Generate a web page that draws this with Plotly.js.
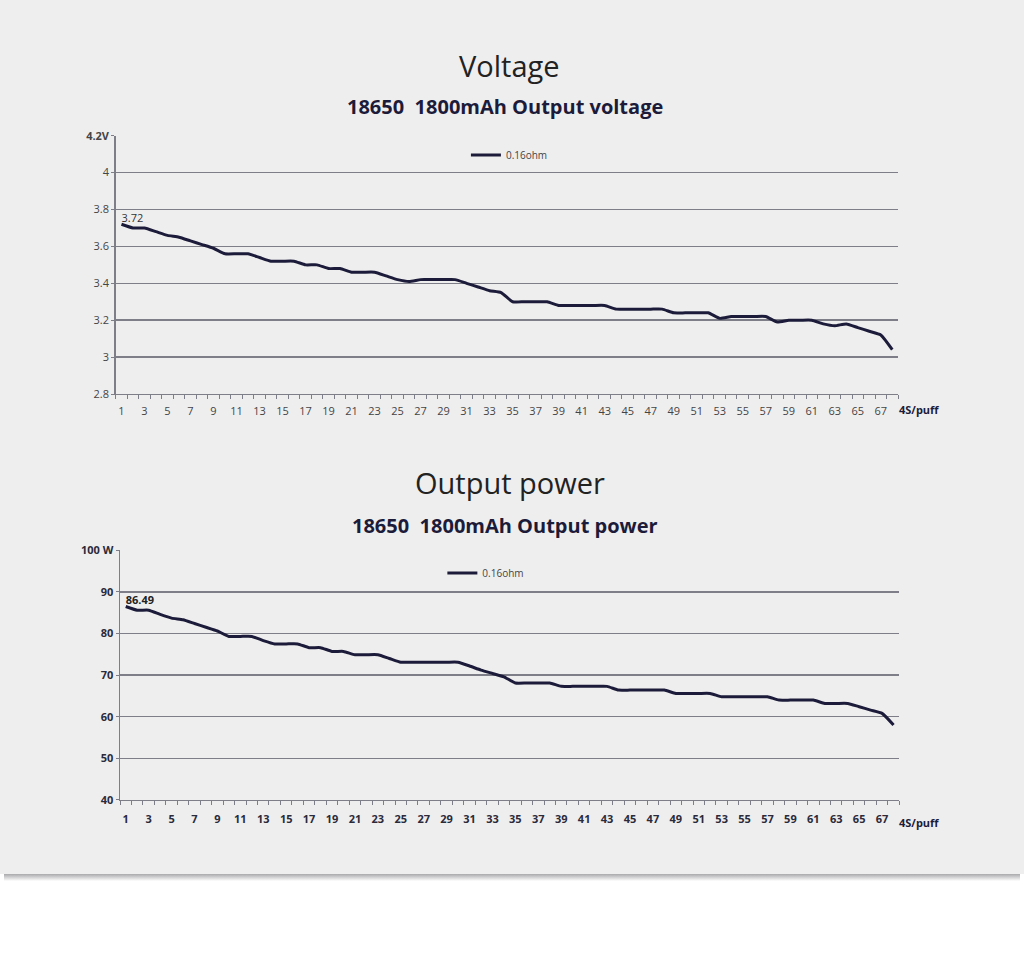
<!DOCTYPE html>
<html>
<head>
<meta charset="utf-8">
<script src="https://cdn.plot.ly/plotly-3.0.1.min.js"></script>
<style>
  body { margin: 0; background: #ffffff; }
  #chart { width: 1024px; height: 874px; }
  #shade { margin: 0 4px; height: 7px; background: linear-gradient(#a9a9ab, #d8d8da 55%, #ffffff); }
</style>
</head>
<body>
<div id="chart"></div>
<div id="shade"></div>
<script>
/* Puff number (one puff every 4 s) */
var puffs = [1, 2, 3, 4, 5, 6, 7, 8, 9, 10, 11, 12, 13, 14, 15, 16, 17, 18, 19, 20,
  21, 22, 23, 24, 25, 26, 27, 28, 29, 30, 31, 32, 33, 34, 35, 36, 37, 38, 39, 40,
  41, 42, 43, 44, 45, 46, 47, 48, 49, 50, 51, 52, 53, 54, 55, 56, 57, 58, 59, 60,
  61, 62, 63, 64, 65, 66, 67, 68];

// Output voltage (V), 0.16ohm coil
var voltage = [3.72, 3.70, 3.70, 3.68, 3.66, 3.65, 3.63, 3.61, 3.59, 3.56,
  3.56, 3.56, 3.54, 3.52, 3.52, 3.52, 3.50, 3.50, 3.48, 3.48,
  3.46, 3.46, 3.46, 3.44, 3.42, 3.41, 3.42, 3.42, 3.42, 3.42,
  3.40, 3.38, 3.36, 3.35, 3.30, 3.30, 3.30, 3.30, 3.28, 3.28,
  3.28, 3.28, 3.28, 3.26, 3.26, 3.26, 3.26, 3.26, 3.24, 3.24,
  3.24, 3.24, 3.21, 3.22, 3.22, 3.22, 3.22, 3.19, 3.20, 3.20,
  3.20, 3.18, 3.17, 3.18, 3.16, 3.14, 3.12, 3.04];

// Output power (W)
var power = [86.49, 85.6, 85.6, 84.6, 83.7, 83.3, 82.4, 81.5, 80.6, 79.3,
  79.3, 79.3, 78.3, 77.5, 77.5, 77.5, 76.6, 76.6, 75.7, 75.7,
  74.9, 74.9, 74.9, 74.0, 73.1, 73.1, 73.1, 73.1, 73.1, 73.1,
  72.2, 71.2, 70.4, 69.6, 68.1, 68.1, 68.1, 68.1, 67.3, 67.3,
  67.3, 67.3, 67.3, 66.4, 66.4, 66.4, 66.4, 66.4, 65.6, 65.6,
  65.6, 65.6, 64.8, 64.8, 64.8, 64.8, 64.8, 64.0, 64.0, 64.0,
  64.0, 63.2, 63.2, 63.2, 62.4, 61.6, 60.8, 58.0];

var voltTicks = [2.8, 3, 3.2, 3.4, 3.6, 3.8, 4, 4.2];
var voltTickText = ['2.8', '3', '3.2', '3.4', '3.6', '3.8', '4', '<b>4.2V</b>'];
var powerTicks = [40, 50, 60, 70, 80, 90, 100];
var powerTickText = ['40', '50', '60', '70', '80', '90', '100 W'];

var seriesName = '0.16ohm';
var oddPuffs = puffs.filter(function (n) { return n % 2 === 1; });

var navy = '#1c1c3a';
var grid = '#7e7e88';

// label only the first point, like the source chart
function firstLabel(arr) {
  return arr.map(function (v, i) { return i === 0 ? String(v) : ''; });
}

var traceV = {
  x : puffs,
  y : voltage,
  text : firstLabel(voltage.map(function (v) { return v.toFixed(2); })),
  mode : 'lines+text',
  textposition : 'top right',
  textfont : {size : 11, color : '#333'},
  line : {color : navy, width : 3, shape : 'spline', smoothing : 0.5},
  name : seriesName,
  xaxis : 'x',
  yaxis : 'y',
  legend : 'legend',
  showlegend : true,
  cliponaxis : false
};

var traceP = {
  x : puffs,
  y : power,
  text : firstLabel(power),
  mode : 'lines+text',
  textposition : 'top right',
  textfont : {size : 11, color : '#222', weight : 'bold'},
  line : {color : navy, width : 3, shape : 'spline', smoothing : 0.5},
  name : seriesName,
  xaxis : 'x2',
  yaxis : 'y2',
  legend : 'legend2',
  showlegend : true,
  cliponaxis : false
};

function xAxis(dom, anchor, font, standoff) {
  return {
    domain : dom, anchor : anchor, range : [0.5, 68.5],
    tickmode : 'array', tickvals : oddPuffs, ticks : '',
    ticklabelstandoff : standoff,
    showgrid : false, zeroline : false,
    showline : true, linecolor : grid, linewidth : 1.5,
    tickfont : font,
    minor : {tickmode : 'linear', tick0 : 0.5, dtick : 1, ticks : 'outside',
             ticklen : 4, tickcolor : grid, tickwidth : 1, showgrid : false}
  };
}

function yAxis(dom, anchor, range, vals, txt, font) {
  return {
    domain : dom, anchor : anchor, range : range,
    tickmode : 'array', tickvals : vals, ticktext : txt,
    ticks : 'outside', ticklen : 3, tickcolor : grid,
    showline : true, linecolor : grid, linewidth : 1.5,
    showgrid : true, gridcolor : grid, gridwidth : 1.5,
    zeroline : false, tickfont : font
  };
}

var lightFont = {size : 11, color : '#444'};
var boldFont = {size : 11, color : '#2a2a3a', weight : 'bold'};

var layout = {
  width : 1024,
  height : 874,
  margin : {l : 0, r : 0, t : 0, b : 0},
  paper_bgcolor : '#efeeef',
  plot_bgcolor : '#efeeef',
  showlegend : true,
  font : {family : 'Open Sans, sans-serif', color : '#444'},
  xaxis : xAxis([0.113, 0.877], 'y', lightFont, 6),
  yaxis : yAxis([0.5492, 0.8447], 'x', [2.8, 4.2], voltTicks, voltTickText, lightFont),
  xaxis2 : xAxis([0.1172, 0.8782], 'y2', boldFont, 8),
  yaxis2 : yAxis([0.0847, 0.3704], 'x2', [40, 100], powerTicks, powerTickText, boldFont),
  legend : {x : 0.455, y : 0.8227, xanchor : 'left', yanchor : 'middle',
            bgcolor : 'rgba(0,0,0,0)', font : {size : 10, color : '#444'}},
  legend2 : {x : 0.432, y : 0.3444, xanchor : 'left', yanchor : 'middle',
             bgcolor : 'rgba(0,0,0,0)', font : {size : 10, color : '#444'}},
  annotations : [
    {text : 'Voltage', xref : 'paper', yref : 'paper', x : 0.498, y : 0.9256,
     yanchor : 'middle', showarrow : false, font : {size : 29, color : '#222'}},
    {text : '18650\u00a0 1800mAh Output voltage', xref : 'paper', yref : 'paper',
     x : 0.493, y : 0.8776, yanchor : 'middle', showarrow : false,
     font : {size : 20, color : navy, weight : 'bold'}},
    {text : 'Output power', xref : 'paper', yref : 'paper', x : 0.498, y : 0.4474,
     yanchor : 'middle', showarrow : false, font : {size : 29, color : '#222'}},
    {text : '18650\u00a0 1800mAh Output power', xref : 'paper', yref : 'paper',
     x : 0.493, y : 0.3993, yanchor : 'middle', showarrow : false,
     font : {size : 20, color : navy, weight : 'bold'}},
    {text : '4S/puff', xref : 'paper', yref : 'paper', x : 0.876, y : 0.532,
     xanchor : 'left', yanchor : 'middle', showarrow : false,
     font : {size : 11, color : navy, weight : 'bold'}},
    {text : '4S/puff', xref : 'paper', yref : 'paper', x : 0.876, y : 0.0584,
     xanchor : 'left', yanchor : 'middle', showarrow : false,
     font : {size : 11, color : navy, weight : 'bold'}}
  ]
};

Plotly.newPlot('chart', [traceV, traceP], layout, {displayModeBar : false, staticPlot : true});
</script>
</body>
</html>
